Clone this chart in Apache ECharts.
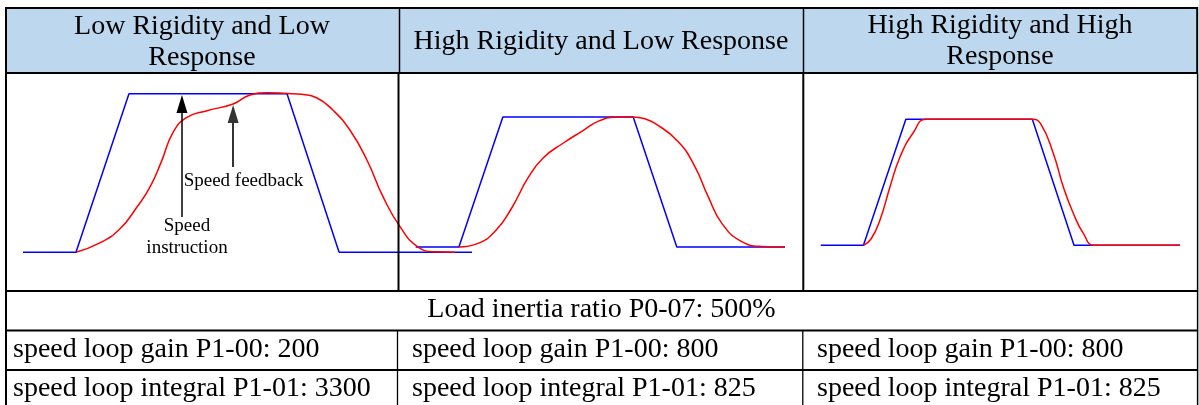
<!DOCTYPE html>
<html>
<head>
<meta charset="utf-8">
<script src="https://cdn.jsdelivr.net/npm/echarts@6/dist/echarts.min.js"></script>
<style>
html,body{margin:0;padding:0;background:#fff;}
#c{width:1199px;height:405px;}
</style>
</head>
<body>
<div id="c"></div>
<script>
// ---- texts ----
const headerLines = [
  ['Low Rigidity and Low', 'Response'],
  ['High Rigidity and Low Response'],
  ['High Rigidity and High', 'Response']
];
const inertiaLabel = 'Load inertia ratio P0-07: 500%';
const gainLabels = ['speed loop gain P1-00: 200', 'speed loop gain P1-00: 800', 'speed loop gain P1-00: 800'];
const integralLabels = ['speed loop integral P1-01: 3300', 'speed loop integral P1-01: 825', 'speed loop integral P1-01: 825'];
const annotFeedback = 'Speed feedback';
const annotInstruction = ['Speed', 'instruction'];

// ---- data: [time (%), speed (%)] ----
const cmd1 = [[0,0],[11.8,0],[23.6,100],[58.8,100],[70.4,0],[100,0]];
const fb1 = [[11.8,0],[17.1,5.9],[21.5,14.5],[25.5,29],[28.3,41.2],[30.8,57],[33.4,75.5],
  [36.5,85],[41,89.3],[46.8,93.5],[50.6,99.2],[54.3,100.6],[58.8,100.1],[62,99.6],
  [65.5,97.3],[69.0,89.7],[72.8,77.1],[76.6,58.2],[80.2,34.9],[84.0,16.0],[88.0,3.3],[91.8,0.3],[96.2,0]];
const cmd2 = [[0,0],[11.7,0],[23.6,100],[58.9,100],[70.7,0],[100,0]];
const fb2 = [[11.7,0],[16.9,2.8],[21.8,13],[26,30],[30.4,53.1],[34.5,68.5],
  [40,80],[45,89],[49.5,96.8],[54,99.8],[58.9,100],[61.8,98.8],[64.8,95.1],[71.1,81],[75.6,61.8],[79.2,38.7],
  [82.9,18.2],[88.3,4.1],[93.7,0.4],[100,0]];
const cmd3 = [[0,0],[11.9,0],[23.7,100],[58.9,100],[70.5,0],[100,0]];
const fb3 = [[11.9,0],[14,5],[16.5,20.1],[19.3,46.5],[22.1,70.3],[25.8,89.5],[29.3,100],[44,100],[58.9,100],
  [61.2,96.5],[64.7,73.3],[67.5,46.5],[70.3,25.4],[73.1,9.5],[76.1,0],[88,0],[100,0]];
// annotation arrows (time, speed from -> to) in chart 1 coordinates
const arrowInstruction = [[35.4,22.3],[35.4,93.5]];
const arrowFeedback = [[46.8,53.8],[46.8,87.2]];

const chart = echarts.init(document.getElementById('c'), null, {renderer:'canvas'});
const FONT = 'Liberation Serif';
const BLUE = '#0000ff', RED = '#ff0000';

const grids = [
  {left:23, top:93.7, width:449, height:158.6},
  {left:415.7, top:117, width:369.3, height:130},
  {left:820.7, top:119.3, width:359.3, height:126}
];

function ln(x1,y1,x2,y2,w,c){
  return {type:'line', z:50, silent:true, shape:{x1,y1,x2,y2}, style:{stroke:c||'#000', lineWidth:w}};
}
function tx(t,x,y,size,align,color){
  return {type:'text', z:60, silent:true, x:x, y:y,
    style:{text:t, fontFamily:FONT, fontSize:size, fill:color||'#000', align:align||'center', verticalAlign:'middle'}};
}

const graphic = [];
// header fill
graphic.push({type:'rect', z:1, silent:true, shape:{x:6, y:8, width:1191, height:65}, style:{fill:'#bdd7ee'}});
// outer borders
graphic.push(ln(6,7,6,405,2));
graphic.push(ln(5,8,1198,8,2));
graphic.push(ln(1197.2,7,1197.2,73,2));
graphic.push(ln(1197.6,73,1197.6,405,1.5));
// horizontal row lines
graphic.push(ln(5,73,1198,73,2));
graphic.push(ln(5,291,1198,291,2));
graphic.push(ln(5,330.5,1198,330.5,2));
graphic.push(ln(5,370,1198,370,2));
// column dividers
graphic.push(ln(399.5,8,399.5,73,1.5));
graphic.push(ln(803.5,8,803.5,73,1.5));
graphic.push(ln(398.5,73,398.5,291,2));
graphic.push(ln(803.3,73,803.3,291,2));
graphic.push(ln(397.5,330.5,397.5,405,1.3));
graphic.push(ln(802.8,330.5,802.8,405,1.3));

// header texts
const colCenters = [202, 601, 1000];
graphic.push(tx(headerLines[0][0], colCenters[0], 26.5, 28));
graphic.push(tx(headerLines[0][1], colCenters[0], 58, 28));
graphic.push(tx(headerLines[1][0], colCenters[1], 42, 28));
graphic.push(tx(headerLines[2][0], colCenters[2], 25.5, 28));
graphic.push(tx(headerLines[2][1], colCenters[2], 57, 28));
// inertia row
graphic.push(tx(inertiaLabel, 601.5, 310, 28));
// parameter rows
const colLefts = [13, 412, 817];
for (let i=0;i<3;i++){
  graphic.push(tx(gainLabels[i], colLefts[i], 350, 28, 'left'));
  graphic.push(tx(integralLabels[i], colLefts[i], 389, 28, 'left'));
}
// annotations
graphic.push(tx(annotFeedback, 243.5, 181, 19));
graphic.push(tx(annotInstruction[0], 187, 226, 19));
graphic.push(tx(annotInstruction[1], 187, 248, 19));

const xAxes = grids.map((g,i)=>({type:'value', gridIndex:i, min:0, max:100, show:false}));
const yAxes = grids.map((g,i)=>({type:'value', gridIndex:i, min:0, max:100, show:false}));

function cmdSeries(data, i){
  return {type:'line', xAxisIndex:i, yAxisIndex:i, data:data, showSymbol:false, clip:false,
    lineStyle:{color:BLUE, width:1.5}, itemStyle:{color:BLUE}, z:3, silent:true};
}
function fbSeries(data, i){
  return {type:'line', xAxisIndex:i, yAxisIndex:i, data:data, showSymbol:false, clip:false,
    smooth:0.5,
    lineStyle:{color:RED, width:1.5}, itemStyle:{color:RED}, z:4, silent:true};
}

const s1 = fbSeries(fb1, 0);
s1.markLine = {
  silent:true, animation:false, label:{show:false},
  symbol:['none','triangle'], symbolSize:[0,0],
  data:[
    [{coord:arrowInstruction[0], symbol:'none', lineStyle:{color:'#000', width:1.5, type:'solid'}},
     {coord:arrowInstruction[1], symbol:'triangle', symbolSize:[11,18]}],
    [{coord:arrowFeedback[0], symbol:'none', lineStyle:{color:'#333', width:2, type:'solid'}},
     {coord:arrowFeedback[1], symbol:'triangle', symbolSize:[11,18]}]
  ],
  lineStyle:{color:'#000', width:1.5, type:'solid'},
  itemStyle:{color:'#000'},
  emphasis:{disabled:true}
};

chart.setOption({
  animation:false,
  backgroundColor:'#fff',
  grid: grids,
  xAxis: xAxes,
  yAxis: yAxes,
  series:[cmdSeries(cmd1,0), s1, cmdSeries(cmd2,1), fbSeries(fb2,1), cmdSeries(cmd3,2), fbSeries(fb3,2)],
  graphic: graphic
});
</script>
</body>
</html>
